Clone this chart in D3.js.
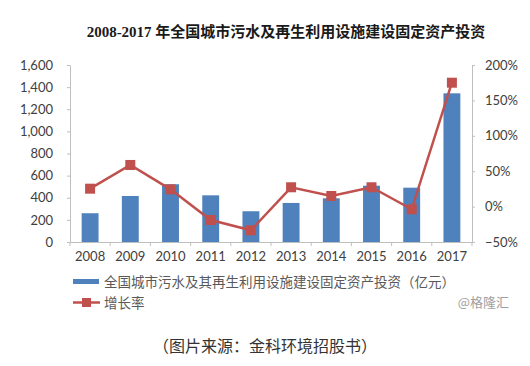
<!DOCTYPE html>
<html><head><meta charset="utf-8">
<script src="https://cdn.jsdelivr.net/npm/d3@7"></script>
<style>body{margin:0;background:#fff}svg{display:block}</style>
</head><body>
<script>
const years = ["2008","2009","2010","2011","2012","2013","2014","2015","2016","2017"];
const investment = [260, 416, 522, 422, 278, 353, 395, 509, 491, 1344];
const growth = [0.253, 0.588, 0.244, -0.189, -0.335, 0.273, 0.150, 0.273, -0.038, 1.75];
const leftTicks = [0,200,400,600,800,1000,1200,1400,1600];
const rightTicks = [-0.5,0,0.5,1,1.5,2];
const titleText = "2008-2017 年全国城市污水及再生利用设施建设固定资产投资";
const legendBar = "全国城市污水及其再生利用设施建设固定资产投资（亿元）";
const legendLine = "增长率";
const watermark = "@格隆汇";
const sourceText = "（图片来源：金科环境招股书）";

const W = 530, H = 366;
const svg = d3.select("body").append("svg").attr("width", W).attr("height", H);
const m = {l:70, r:472, t:65, b:242};
const x = d3.scaleBand().domain(years).range([m.l, m.r]).padding(0);
const yL = d3.scaleLinear().domain([0,1600]).range([m.b, m.t]);
const yR = d3.scaleLinear().domain([-0.5,2]).range([m.b, m.t]);
const axisColor = "#bfbfbf", textColor = "#404040";
const sans = "Lato, 'Liberation Sans', sans-serif";

svg.append("text").attr("x", 286).attr("y", 37).attr("text-anchor","middle")
  .attr("font-family","'Liberation Serif','Noto Sans CJK SC',serif").attr("font-weight","bold")
  .attr("font-size",15).attr("fill","#1a1a1a").text(titleText);

// bars
const bw = x.bandwidth()*0.42;
svg.append("g").selectAll("rect").data(years).join("rect")
  .attr("x", d => x(d) + (x.bandwidth()-bw)/2)
  .attr("y", (d,i) => yL(investment[i]))
  .attr("width", bw)
  .attr("height", (d,i) => yL(0) - yL(investment[i]))
  .attr("fill", "#4f81bd");

// left axis
const gL = svg.append("g").attr("transform", `translate(${m.l},0)`)
  .call(d3.axisLeft(yL).tickValues(leftTicks).tickFormat(d3.format(",")).tickSize(3).tickSizeOuter(0).tickPadding(14));
// right axis
const gR = svg.append("g").attr("transform", `translate(${m.r},0)`)
  .call(d3.axisRight(yR).tickValues(rightTicks).tickFormat(d3.format(".0%")).tickSize(3).tickSizeOuter(0).tickPadding(10));
// bottom axis
const gB = svg.append("g").attr("transform", `translate(0,${m.b})`)
  .call(d3.axisBottom(x).tickSize(0).tickPadding(10));
const bounds = years.map(d => x(d)).concat([m.r]);
gB.selectAll("line.bt").data(bounds).join("line").attr("class","bt")
  .attr("x1", d => d).attr("x2", d => d).attr("y1", 0).attr("y2", 4);

[gL, gR, gB].forEach(g => {
  g.selectAll("path.domain").attr("stroke", axisColor);
  g.selectAll("line").attr("stroke", axisColor);
  g.selectAll("text").attr("fill", textColor).attr("font-family", sans).attr("font-size", 13);
});

// line
const cx = d => x(d) + x.bandwidth()/2;
svg.append("path").datum(years)
  .attr("d", d3.line().x(d => cx(d)).y((d,i) => yR(growth[i])))
  .attr("fill","none").attr("stroke","#c0504d").attr("stroke-width",2.5);
svg.append("g").selectAll("rect").data(years).join("rect")
  .attr("x", d => cx(d) - 5).attr("y", (d,i) => yR(growth[i]) - 5)
  .attr("width", 10).attr("height", 10).attr("fill", "#c0504d");

// legend
const cjk = "'Noto Sans CJK SC', sans-serif";
svg.append("rect").attr("x",73).attr("y",279).attr("width",26).attr("height",5).attr("fill","#4f81bd");
svg.append("text").attr("x",104).attr("y",286.5).attr("font-family",cjk).attr("font-size",13.5)
  .attr("fill","#595959").text(legendBar);
svg.append("line").attr("x1",73).attr("x2",100).attr("y1",302.5).attr("y2",302.5)
  .attr("stroke","#c0504d").attr("stroke-width",2.5);
svg.append("rect").attr("x",82).attr("y",298).attr("width",9).attr("height",9).attr("fill","#c0504d");
svg.append("text").attr("x",104).attr("y",307.5).attr("font-family",cjk).attr("font-size",13.5)
  .attr("fill","#595959").text(legendLine);
svg.append("text").attr("x",509).attr("y",307).attr("text-anchor","end").attr("font-family",cjk)
  .attr("font-size",13).attr("fill","#a0a0a0").text(watermark);
svg.append("text").attr("x",265).attr("y",352).attr("text-anchor","middle").attr("font-family",cjk)
  .attr("font-size",16).attr("fill","#333").text(sourceText);
</script>
</body></html>
